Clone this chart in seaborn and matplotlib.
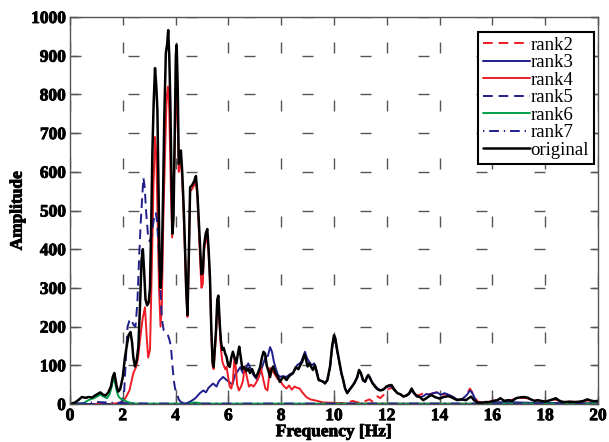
import numpy as np
import pandas as pd
import matplotlib
matplotlib.use("Agg")
import matplotlib.pyplot as plt
import matplotlib.patheffects as pe
import seaborn as sns

# ---- spectra (frequency in Hz, amplitude) ----
original_hz = [0.00, 0.20, 0.35, 0.45, 0.60, 0.70, 0.85, 0.95, 1.05, 1.15, 1.25, 1.35, 1.45, 1.55, 1.62,
               1.68, 1.73, 1.77, 1.83, 1.90, 2.00, 2.08, 2.15, 2.22, 2.29, 2.35, 2.40, 2.46, 2.52, 2.59,
               2.65, 2.71, 2.76, 2.81, 2.86, 2.92, 2.98, 3.03, 3.08, 3.12, 3.17, 3.22, 3.27, 3.31, 3.35,
               3.39, 3.43, 3.47, 3.52, 3.57, 3.63, 3.68, 3.72, 3.76, 3.80, 3.84, 3.88, 3.92, 3.97, 4.01,
               4.04, 4.08, 4.12, 4.16, 4.20, 4.25, 4.30, 4.35, 4.40, 4.45, 4.50, 4.55, 4.62, 4.70, 4.77,
               4.83, 4.88, 4.93, 4.98, 5.03, 5.08, 5.14, 5.20, 5.25, 5.30, 5.35, 5.40, 5.44, 5.49, 5.53,
               5.58, 5.62, 5.67, 5.72, 5.77, 5.82, 5.88, 5.93, 5.99, 6.05, 6.11, 6.17, 6.23, 6.30, 6.36,
               6.41, 6.47, 6.53, 6.60, 6.68, 6.75, 6.82, 6.90, 6.98, 7.05, 7.12, 7.20, 7.27, 7.33, 7.39,
               7.45, 7.52, 7.58, 7.64, 7.70, 7.78, 7.86, 7.95, 8.02, 8.10, 8.20, 8.30, 8.45, 8.55, 8.65,
               8.72, 8.80, 8.88, 8.93, 9.00, 9.07, 9.14, 9.20, 9.28, 9.35, 9.42, 9.50, 9.58, 9.66, 9.75,
               9.85, 9.93, 10.00, 10.05, 10.12, 10.20, 10.28, 10.35, 10.42, 10.50, 10.60, 10.68, 10.78,
               10.88, 10.95, 11.02, 11.10, 11.18, 11.25, 11.30, 11.36, 11.45, 11.55, 11.65, 11.75, 11.87,
               11.98, 12.08, 12.18, 12.28, 12.40, 12.52, 12.63, 12.75, 12.85, 12.94, 13.02, 13.13, 13.25,
               13.38, 13.50, 13.60, 13.70, 13.82, 14.00, 14.15, 14.30, 14.40, 14.52, 14.66, 14.80, 15.00,
               15.10, 15.20, 15.30, 15.45, 15.60, 15.75, 15.90, 16.05, 16.20, 16.30, 16.45, 16.60, 16.75,
               16.90, 17.05, 17.20, 17.35, 17.45, 17.60, 17.72, 17.85, 18.00, 18.15, 18.30, 18.40, 18.50,
               18.62, 18.75, 18.90, 19.10, 19.30, 19.45, 19.60, 19.72, 19.85, 20.00]
original_amp = [0, 4, 12, 18, 16, 18, 17, 22, 26, 30, 24, 22, 30, 45, 70,
                80, 60, 45, 32, 38, 70, 120, 150, 178, 186, 160, 120, 97, 110, 148,
                250, 372, 400, 340, 270, 255, 262, 300, 480, 650, 780, 868, 820, 760, 560,
                380, 300, 340, 520, 734, 907, 930, 966, 900, 780, 600, 440, 480, 720, 900,
                928, 820, 620, 640, 655, 600, 520, 420, 300, 230, 380, 560, 565, 575, 589,
                540, 470, 400, 335, 340, 410, 440, 452, 400, 330, 200, 110, 96, 150, 190,
                270, 280, 210, 160, 140, 145, 130, 122, 100, 96, 120, 135, 120, 105, 130,
                148, 120, 90, 95, 85, 92, 80, 90, 75, 70, 80, 95, 120, 135, 130,
                100, 85, 70, 90, 97, 80, 72, 57, 65, 70, 62, 72, 80, 95, 90,
                100, 110, 128, 118, 97, 105, 95, 88, 100, 80, 62, 60, 58, 53, 62,
                97, 150, 178, 170, 140, 110, 80, 62, 40, 28, 38, 45, 55,
                70, 88, 80, 62, 58, 70, 75, 68, 55, 45, 38, 35, 37,
                45, 48, 49, 38, 28, 25, 19, 22, 28, 40, 30, 20, 18,
                10, 15, 20, 23, 18, 14, 18, 20, 19, 15, 10, 12, 10,
                15, 19, 10, 3, 3, 5, 5, 8, 10, 15, 8, 10, 8,
                15, 17, 18, 16, 12, 8, 10, 8, 6, 9, 12, 15, 10,
                6, 5, 6, 5, 6, 8, 12, 9, 7, 8]

rank2_hz = [0.0, 9.8, 10.0, 10.5, 10.7, 10.85, 11.0, 11.2, 11.35, 11.45, 11.55, 11.65, 11.75, 11.9,
            12.05, 12.18, 12.3, 12.45, 12.6, 12.75, 12.9, 13.0, 13.15, 13.3, 13.45, 13.6, 13.75, 13.9,
            14.05, 14.2, 14.35, 14.5, 14.65, 14.8, 14.95, 15.05, 15.15, 15.22, 15.3, 15.45, 15.6, 15.8,
            16.0, 16.2, 16.35, 16.5, 16.7, 16.9, 17.1, 17.3, 17.5, 17.7, 17.9, 18.1, 18.3, 18.45, 18.6,
            18.8, 19.0, 19.3, 19.6, 19.8, 20.0]
rank2_amp = [0, 0, 2, 3, 8, 5, 3, 8, 12, 6, 14, 20, 15, 25,
             38, 42, 35, 28, 20, 22, 30, 28, 22, 25, 30, 25, 28, 30,
             22, 26, 22, 18, 12, 10, 18, 28, 40, 32, 20, 6, 4, 6,
             8, 10, 12, 8, 10, 14, 16, 15, 10, 9, 7, 9, 12, 10, 6,
             5, 6, 5, 9, 8, 7]

rank3_hz = [0.0, 4.30, 4.45, 4.60, 4.75, 4.92, 5.05, 5.15, 5.25, 5.42, 5.55, 5.65, 5.80, 5.93, 6.06,
            6.15, 6.25, 6.35, 6.45, 6.55, 6.65, 6.75, 6.85, 6.95, 7.10, 7.20, 7.30, 7.40, 7.50, 7.58,
            7.65, 7.72, 7.80, 7.88, 7.95, 8.05, 8.20, 8.35, 8.45, 8.60, 8.75, 8.90, 8.97, 9.05, 9.15,
            9.25, 9.35, 9.42, 9.50, 9.58, 9.66, 9.75, 9.85, 9.93, 10.00, 10.05, 10.12, 10.20, 10.28,
            10.35, 10.42, 10.50, 10.60, 10.68, 10.78, 10.88, 10.95, 11.02, 11.10, 11.18, 11.25, 11.30,
            11.36, 11.45, 11.55, 11.65, 11.75, 11.87, 11.98, 12.08, 12.18, 12.28, 12.40, 12.52, 12.63,
            12.75, 12.85, 12.94, 13.02, 13.13, 13.25, 13.38, 13.50, 13.62, 13.75, 13.90, 14.05, 14.18,
            14.27, 14.40, 14.50, 14.65, 14.77, 14.90, 15.05, 15.15, 15.22, 15.28, 15.40, 15.60, 16.0,
            16.5, 17.0, 17.5, 18.0, 19.0, 20.0]
rank3_amp = [0, 0, 3, 8, 15, 28, 35, 30, 42, 53, 45, 60, 70, 62, 55,
             50, 75, 85, 95, 80, 90, 105, 90, 75, 62, 80, 100, 120, 125, 147,
             135, 110, 90, 75, 70, 72, 70, 78, 80, 100, 108, 135, 120, 110, 100,
             105, 85, 62, 60, 58, 55, 62, 95, 145, 170, 165, 135, 108, 78,
             60, 40, 30, 38, 45, 55, 68, 85, 78, 60, 57, 68, 72,
             66, 55, 48, 40, 36, 38, 43, 46, 45, 36, 28, 25, 20,
             22, 26, 35, 28, 22, 18, 20, 26, 24, 28, 30, 24, 28,
             26, 22, 19, 12, 10, 15, 25, 35, 30, 23, 5, 3, 4,
             5, 4, 3, 3, 2, 2]

rank4_hz = [0.0, 1.50, 1.80, 1.95, 2.10, 2.25, 2.40, 2.50, 2.58, 2.65, 2.75, 2.84, 2.90, 2.96, 3.03,
            3.10, 3.16, 3.22, 3.27, 3.32, 3.37, 3.43, 3.48, 3.53, 3.60, 3.66, 3.71, 3.76, 3.82, 3.87,
            3.92, 3.98, 4.03, 4.07, 4.12, 4.16, 4.20, 4.25, 4.30, 4.35, 4.40, 4.45, 4.50, 4.55, 4.62,
            4.70, 4.77, 4.83, 4.88, 4.93, 4.98, 5.03, 5.08, 5.14, 5.20, 5.25, 5.30, 5.35, 5.40, 5.44,
            5.49, 5.53, 5.58, 5.62, 5.67, 5.72, 5.77, 5.82, 5.88, 5.93, 5.99, 6.05, 6.11, 6.17, 6.23,
            6.28, 6.33, 6.40, 6.48, 6.55, 6.62, 6.70, 6.78, 6.86, 6.95, 7.05, 7.15, 7.22, 7.30, 7.40,
            7.48, 7.58, 7.68, 7.77, 7.86, 7.95, 8.05, 8.12, 8.20, 8.30, 8.40, 8.50, 8.60, 8.70, 8.80,
            8.95, 9.10, 9.30, 9.60, 10.0, 10.5, 20.0]
rank4_amp = [0, 0, 2, 5, 15, 35, 80, 95, 120, 165, 220, 250, 180, 120, 140,
             355, 560, 690, 640, 480, 300, 200, 260, 460, 650, 790, 820, 760, 560, 430,
             527, 700, 820, 760, 600, 620, 630, 580, 500, 400, 290, 225, 370, 550, 555,
             565, 580, 530, 450, 370, 300, 310, 400, 420, 430, 390, 320, 190, 100, 90,
             140, 180, 250, 260, 200, 140, 110, 100, 90, 96, 70, 45, 40, 60, 120,
             95, 50, 35, 45, 60, 95, 70, 45, 50, 45, 55, 70, 97, 70, 40,
             35, 93, 85, 75, 65, 62, 50, 45, 40, 48, 37, 45, 42, 40, 30,
             18, 12, 9, 4, 3, 1, 0]

rank5_hz = [0.0, 1.80, 1.95, 2.05, 2.12, 2.18, 2.25, 2.32, 2.40, 2.48, 2.55, 2.62, 2.68, 2.74, 2.78,
            2.83, 2.88, 2.95, 3.02, 3.10, 3.18, 3.25, 3.30, 3.36, 3.42, 3.48, 3.55, 3.62, 3.70, 3.77,
            3.82, 3.88, 3.93, 3.98, 4.05, 4.12, 4.20, 4.35, 4.50, 20.0]
rank5_amp = [0, 0, 5, 30, 120, 200, 215, 220, 205, 200, 260, 380, 470, 540, 585,
             560, 500, 440, 420, 440, 480, 495, 470, 400, 300, 220, 190, 185, 180, 165,
             150, 100, 62, 40, 28, 12, 5, 2, 0, 0]

rank6_hz = [0.0, 0.50, 0.70, 0.90, 1.05, 1.15, 1.25, 1.40, 1.50, 1.58, 1.65, 1.72, 1.78, 1.85, 1.95,
            2.05, 2.15, 2.30, 2.50, 4.50, 4.70, 4.85, 5.00, 20.0]
rank6_amp = [0, 2, 10, 15, 20, 25, 20, 15, 25, 45, 72, 50, 30, 18, 12,
             10, 6, 3, 1, 1, 4, 3, 1, 1]

rank7_hz = [0.0, 0.6, 1.0, 1.4, 1.8, 2.2, 3.0, 20.0]
rank7_amp = [0, 2, 5, 4, 3, 2, 1, 1]

RED = "#ee1c25"
NAVY = "#1f1f8c"
GREEN = "#00a04a"

series = [
    ("rank2", rank2_hz, rank2_amp, RED, (0, (5, 3)), 1.4),
    ("rank3", rank3_hz, rank3_amp, NAVY, "-", 1.4),
    ("rank4", rank4_hz, rank4_amp, RED, "-", 1.4),
    ("rank5", rank5_hz, rank5_amp, NAVY, (0, (5, 3)), 1.4),
    ("rank6", rank6_hz, rank6_amp, GREEN, "-", 1.4),
    ("rank7", rank7_hz, rank7_amp, NAVY, (0, (0.7, 2.5, 5, 2.5)), 1.4),
    ("original", original_hz, original_amp, "black", "-", 1.8),
]

sns.set_theme(style="white")
plt.rcParams["font.family"] = ["Liberation Serif", "DejaVu Serif"]
plt.rcParams["font.weight"] = "bold"
plt.rcParams["text.color"] = "black"
plt.rcParams["axes.labelcolor"] = "black"
plt.rcParams["xtick.color"] = "#555555"
plt.rcParams["ytick.color"] = "#555555"
plt.rcParams["xtick.labelcolor"] = "black"
plt.rcParams["ytick.labelcolor"] = "black"

fig = plt.figure(figsize=(6.09, 4.42), dpi=100)
ax = fig.add_axes([70 / 609, 1 - 404 / 442, 528 / 609, 387 / 442])

for name, hz, amp, col, ls, lw in series:
    df = pd.DataFrame({"Frequency": hz, "Amplitude": amp})
    sns.lineplot(data=df, x="Frequency", y="Amplitude", ax=ax, color=col,
                 linestyle=ls, linewidth=lw, label=name)

ax.set_xlim(0, 20)
ax.set_ylim(0, 1000)
ax.set_xticks(np.arange(0, 21, 2))
ax.set_yticks(np.arange(0, 1001, 100))

# sparse dashed grid
grid_col = "#555555"
px = 0.72
ax.xaxis.grid(True, color=grid_col, linewidth=1.0,
              linestyle=(55 * px, (11 * px, 47 * px)))
ax.yaxis.grid(True, color=grid_col, linewidth=1.0,
              linestyle=(0, (11 * px, 47 * px)))
ax.set_axisbelow(True)

for sp in ax.spines.values():
    sp.set_color("#555555")
    sp.set_linewidth(1.0)

ax.tick_params(direction="in", length=6, width=1.0,
               top=True, right=True, bottom=True, left=True, pad=3,
               labelsize=12.5)

heavy = [pe.withStroke(linewidth=0.6, foreground="black")]
for lab in ax.get_xticklabels() + ax.get_yticklabels():
    lab.set_path_effects(heavy)

ax.set_xlabel("Frequency [Hz]", fontsize=12.5, fontweight="bold", labelpad=0,
              path_effects=heavy)
ax.set_ylabel("Amplitude", fontsize=12.5, fontweight="bold", labelpad=4,
              path_effects=heavy)

leg = ax.legend(loc="upper right", bbox_to_anchor=(0.992, 0.961), borderaxespad=0,
                prop={"family": "Liberation Serif", "weight": "normal", "size": 13.5},
                handlelength=2.5, handletextpad=0.05, labelspacing=0.02,
                borderpad=0.25, fancybox=False, framealpha=1, edgecolor="black")
leg.get_frame().set_linewidth(1.5)

fig.savefig("out.png", dpi=100)
